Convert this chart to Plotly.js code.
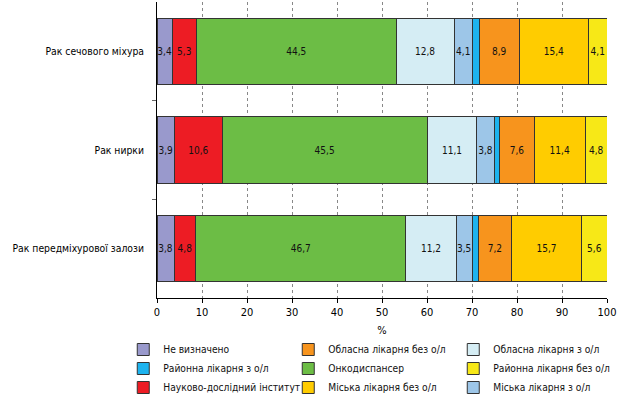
<!DOCTYPE html>
<html><head><meta charset="utf-8">
<script src="https://cdn.plot.ly/plotly-3.0.1.min.js"></script>
<style>body{margin:0;background:#fff}#c{width:634px;height:397px}</style>
</head><body><div id="c"></div>
<script>
const categories = ["Рак сечового міхура", "Рак нирки", "Рак передміхурової залози"];
const seriesNames = ["Не визначено", "Науково-дослідний інститут", "Онкодиспансер", "Обласна лікарня з о/л", "Міська лікарня з о/л", "Районна лікарня з о/л", "Обласна лікарня без о/л", "Міська лікарня без о/л", "Районна лікарня без о/л"];
const neVyznacheno = [3.4, 3.9, 3.8];
const ndi = [5.3, 10.6, 4.8];
const onkodyspanser = [44.5, 45.5, 46.7];
const oblasnaZ = [12.8, 11.1, 11.2];
const miskaZ = [4.1, 3.8, 3.5];
const raionnaZ = [1.5, 1.3, 1.5];
const oblasnaBez = [8.9, 7.6, 7.2];
const miskaBez = [15.4, 11.4, 15.7];
const raionnaBez = [4.1, 4.8, 5.6];
const showLabel = [true, true, true, true, true, false, true, true, true];
const xTicks = [0,10,20,30,40,50,60,70,80,90,100];

const seriesValues = [neVyznacheno, ndi, onkodyspanser, oblasnaZ, miskaZ, raionnaZ, oblasnaBez, miskaBez, raionnaBez];
const colors = ["#9999CC", "#ED1C24", "#6CBD45", "#D5EDF4", "#9DC6E8", "#1DB3EE", "#F7941D", "#FFCC00", "#F7E817"];
const legendRank = [1, 7, 5, 3, 9, 4, 2, 8, 6];

const yPos = categories.map((c, i) => i);
const traces = seriesValues.map((vals, i) => ({
  type: 'bar', orientation: 'h', name: seriesNames[i],
  x: vals, y: yPos,
  marker: {color: colors[i], line: {color: '#333', width: 1}},
  text: showLabel[i] ? vals.map(v => v.toFixed(1).replace('.', ',')) : vals.map(() => ''),
  textposition: 'inside', insidetextanchor: 'middle', textangle: 0,
  constraintext: 'none',
  textfont: {color: '#111', size: 10, family: 'DejaVu Sans Condensed, DejaVu Sans'},
  hoverinfo: 'x+name',
  legendrank: legendRank[i]
}));

const layout = {
  width: 634, height: 397,
  margin: {l: 157, r: 27, t: 2, b: 99, autoexpand: false},
  barmode: 'stack', bargap: 0.33,
  separators: ', ',
  paper_bgcolor: '#fff', plot_bgcolor: '#fff',
  font: {family: 'DejaVu Sans Condensed, DejaVu Sans', size: 11, color: '#000'},
  xaxis: {
    range: [0, 100], tickvals: xTicks, ticktext: xTicks.map(String),
    showgrid: true, gridcolor: '#888', griddash: '3px,3px', gridwidth: 1,
    zeroline: false, showline: true, linecolor: '#000', linewidth: 1,
    ticks: 'outside', ticklen: 4, tickcolor: '#000',
    tickfont: {size: 11},
    title: {text: '%', font: {size: 11}, standoff: 8}
  },
  yaxis: {
    range: [2.5, -0.5], tickvals: yPos, ticktext: categories,
    showgrid: false, zeroline: false, showline: true, linecolor: '#000', linewidth: 1,
    ticks: '', ticklabelstandoff: 10,
    tickfont: {size: 10.3},
    minor: {tickvals: [0.5, 1.5], ticks: 'outside', ticklen: 4, tickcolor: '#666', showgrid: false}
  },
  showlegend: true,
  legend: {
    orientation: 'h', x: -0.075, xanchor: 'left', y: -0.125, yanchor: 'top',
    entrywidth: 120, entrywidthmode: 'pixels',
    traceorder: 'normal', itemwidth: 30, tracegroupgap: 0,
    font: {size: 10.2, color: '#111'}, bgcolor: 'rgba(0,0,0,0)'
  }
};

Plotly.newPlot('c', traces, layout, {displayModeBar: false, staticPlot: true});
</script></body></html>
